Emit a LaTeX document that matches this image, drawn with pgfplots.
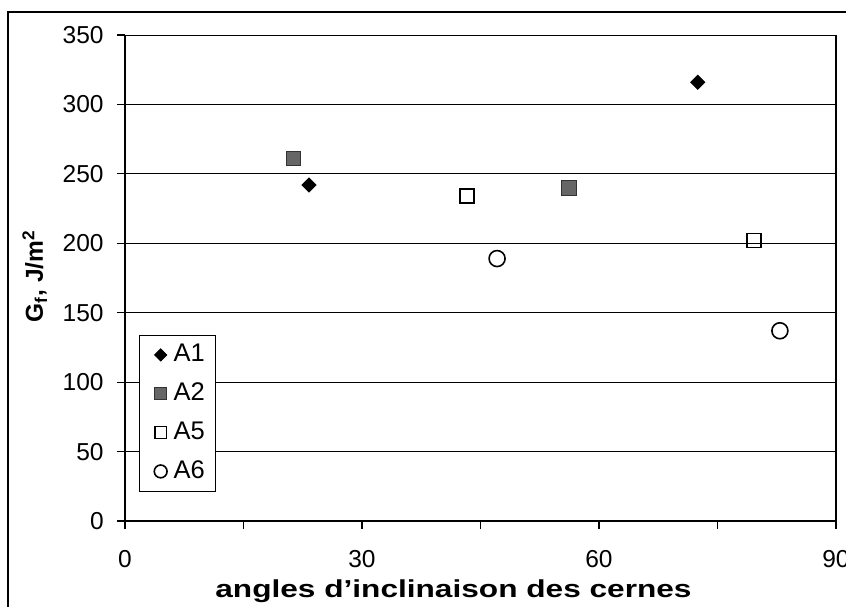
\documentclass[border=0pt]{standalone}
\usepackage{fontspec}
\setmainfont{Liberation Sans}
\usepackage{pgfplots}
\pgfplotsset{compat=1.18}

\pgfplotstableread{
x y
23.3 242
72.5 316
}\tA
\pgfplotstableread{
x y
21.3 261
56.2 240
}\tB
\pgfplotstableread{
x y
43.3 234
79.6 202
}\tC
\pgfplotstableread{
x y
47.1 189
82.9 137
}\tD

\begin{document}
\fontsize{12}{14}\selectfont
\begin{tikzpicture}
\begin{axis}[
    scale only axis,
    width=355.5bp, height=243bp,
    xmin=0, xmax=90, ymin=0, ymax=350,
    xtick={0,15,...,90},
    xticklabels={0,,30,,60,,90},
    ytick={0,50,...,350},
    tick align=outside,
    major tick length=4bp,
    tick style={black, line width=0.6pt},
    axis line style={black, line width=0.6pt},
    ymajorgrids,
    grid style={black, line width=0.5pt},
    axis x line*=bottom,
    axis y line*=left,
    /pgf/number format/assume math mode=true,
    ticklabel style={font=\fontsize{12.3}{14}\selectfont},
    yticklabel style={xshift=-2.5bp},
    xticklabel style={yshift=-6.5bp},
    xlabel={\scalebox{1.29}[1]{angles d'inclinaison des cernes}},
    ylabel={G\textsubscript{f}, J/m\textsuperscript{2}},
    xlabel style={font=\bfseries\fontsize{12.3}{14}\selectfont, at={(axis description cs:0.462,0)}, anchor=base, yshift=-38bp},
    ylabel style={font=\bfseries\fontsize{12.3}{14}\selectfont, at={(axis description cs:-0.127,0.504)}, anchor=center},
    legend style={at={(axis description cs:0.019,0.383)}, anchor=north west,
        draw=black, line width=0.5pt, font=\fontsize{12.8}{14}\selectfont,
        row sep=4.8bp, inner xsep=3.5bp, inner ysep=2.5bp},
    legend image code/.code={\path (-0.15cm,0cm) (0.25cm,0cm);
        \draw[mark repeat=2,mark phase=2] plot coordinates {(-0.05cm,0cm) (0.1cm,0cm) (0.25cm,0cm)};},
    legend cell align=left,
    clip=false,
]
\addplot[only marks, mark=square*, mark size=2.5bp, mark options={rotate=45, fill=black, draw=black},
    legend image post style={every mark/.append style={scale=0.85}}] table {\tA};
\addlegendentry{A1}
\addplot[only marks, mark=square*, mark size=3.6bp, mark options={fill=black!60, draw=black!80},
    legend image post style={every mark/.append style={scale=0.8}}] table {\tB};
\addlegendentry{A2}
\addplot[only marks, mark=square, mark size=3.5bp, mark options={draw=black, line width=0.8pt},
    legend image post style={every mark/.append style={scale=0.85}}] table {\tC};
\addlegendentry{A5}
\addplot[only marks, mark=o, mark size=4bp, mark options={draw=black, line width=0.8pt},
    legend image post style={every mark/.append style={scale=0.8}}] table {\tD};
\addlegendentry{A6}
\draw[black, line width=0.6pt] (rel axis cs:1,0) -- (rel axis cs:1,1);
\end{axis}
\draw[black, line width=0.8pt]
    ([shift={(375bp,254.5bp)}]current axis.south west) -| ([shift={(-58.5bp,-60bp)}]current axis.south west);
\pgfresetboundingbox
\path ([shift={(-62.5bp,-43bp)}]current axis.south west) rectangle ([shift={(360.5bp,260.5bp)}]current axis.south west);
\end{tikzpicture}
\end{document}
